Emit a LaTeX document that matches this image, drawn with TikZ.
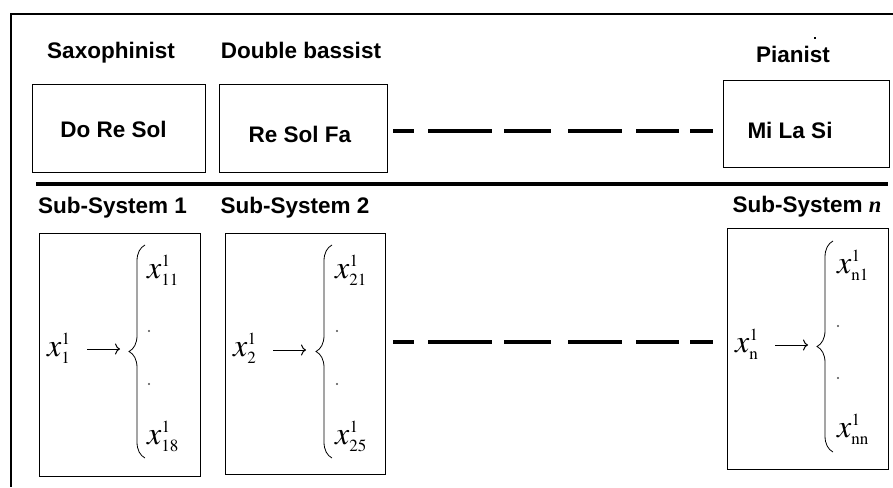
\documentclass[tikz,border=0pt]{standalone}
\usepackage{mathptmx}
\usepackage{fontspec}
\setmainfont{Liberation Sans}
\newfontfamily\tms{Liberation Serif}
\DeclareMathSizes{32}{32}{17}{13}
\usetikzlibrary{decorations.pathreplacing,arrows.meta}
\begin{document}
\begin{tikzpicture}[x=1pt,y=-1pt,
  lbl/.style={font=\bfseries\fontsize{22.5}{26}\selectfont, inner sep=0pt, anchor=base},
  boxA/.style={draw, line width=1.1pt, anchor=north west, inner sep=0pt},
  mth/.style={font=\fontsize{32}{36}\selectfont, inner sep=0pt, anchor=base west},
  dotnode/.style={circle, fill=black!70, inner sep=0pt, minimum size=2.2pt},
  dashline/.style={line width=4pt, dash pattern=on 21pt off 14pt on 64pt off 12pt on 47pt off 17pt on 54pt off 14pt on 43pt off 11pt on 24pt off 100pt},
  brc/.style={decorate, decoration={brace, amplitude=16pt}, line width=0.8pt},
  maparrow/.style={line width=1pt, -{To[length=5pt,width=11pt]}}
]
\useasboundingbox (0,0) rectangle (893,487);
% outer frame
\draw[line width=2pt] (893,14) -- (11,14) -- (11,487);
% stray dot
\fill (814,37) rectangle (816,39);

% role labels
\node[lbl] (sax) at (111,59) {Saxophinist};
\node[lbl] (dbl) at (301,59) {Double bassist};
\node[lbl] (pia) at (793,63) {Pianist};

% top boxes
\node[boxA, minimum width=173pt, minimum height=88pt] (b1) at (32,84) {};
\node[boxA, minimum width=168pt, minimum height=88pt] (b2) at (219,84) {};
\node[boxA, minimum width=166pt, minimum height=87pt] (b3) at (723,80) {};
\node[lbl] (t1) at (113.5,137) {Do Re Sol};
\node[lbl] (t2) at (300,142) {Re Sol Fa};
\node[lbl] (t3) at (790,138) {Mi La Si};
\draw[dashline, shorten <=5pt, shorten >=10pt] ([yshift=-2pt]b2.east) -- ([yshift=-6.5pt]b3.west);

% divider
\draw[line width=4.5pt] (36,184) -- (888,184);

% subsystem labels
\node[lbl] (s1) at (112.5,213) {Sub-System 1};
\node[lbl] (s2) at (295,213) {Sub-System 2};
\node[lbl] (sn) at (807,212) {Sub-System {\tms\bfseries\itshape n}};

% subsystem boxes
\node[boxA, minimum width=161pt, minimum height=243pt] (c1) at (39,233) {};
\node[boxA, minimum width=160pt, minimum height=241pt] (c2) at (225,233) {};
\node[boxA, minimum width=161pt, minimum height=241pt] (cn) at (727,228) {};
\draw[dashline, shorten <=7pt, shorten >=14pt] ([yshift=12.5pt]c2.east) -- ([yshift=7.5pt]cn.west);

% subsystem 1 content
\node[mth] (x1) at (47,356) {$x^{1}_{1}$};
\coordinate (a1s) at (87,349);
\coordinate (a1e) at (120,349);
\draw[maparrow] (a1s) -- (a1e);
\draw[brc] (145,458) -- (145,245);
\node[mth] (x11) at (147,278) {$x^1_{11}$};
\node[dotnode] (d11) at (149,331) {};
\node[dotnode] (d12) at (149,384) {};
\node[mth] (x18) at (147,444) {$x^1_{18}$};

% subsystem 2 content
\node[mth] (x2) at (233,356) {$x^{1}_{2}$};
\coordinate (a2s) at (273,350);
\coordinate (a2e) at (306,350);
\draw[maparrow] (a2s) -- (a2e);
\draw[brc] (332,458) -- (332,245);
\node[mth] (x21) at (335,278) {$x^1_{21}$};
\node[dotnode] (d21) at (337,331) {};
\node[dotnode] (d22) at (337,384) {};
\node[mth] (x25) at (335,444) {$x^1_{25}$};

% subsystem n content
\node[mth] (xn) at (735,352) {$x^{1}_{\mathrm{n}}$};
\coordinate (ans) at (775,345);
\coordinate (ane) at (808,345);
\draw[maparrow] (ans) -- (ane);
\draw[brc] (833,452) -- (833,241);
\node[mth] (xn1) at (837,273) {$x^1_{\mathrm{n1}}$};
\node[dotnode] (dn1) at (838,326) {};
\node[dotnode] (dn2) at (838,378) {};
\node[mth] (xnn) at (837,437) {$x^1_{\mathrm{nn}}$};
\end{tikzpicture}
\end{document}
